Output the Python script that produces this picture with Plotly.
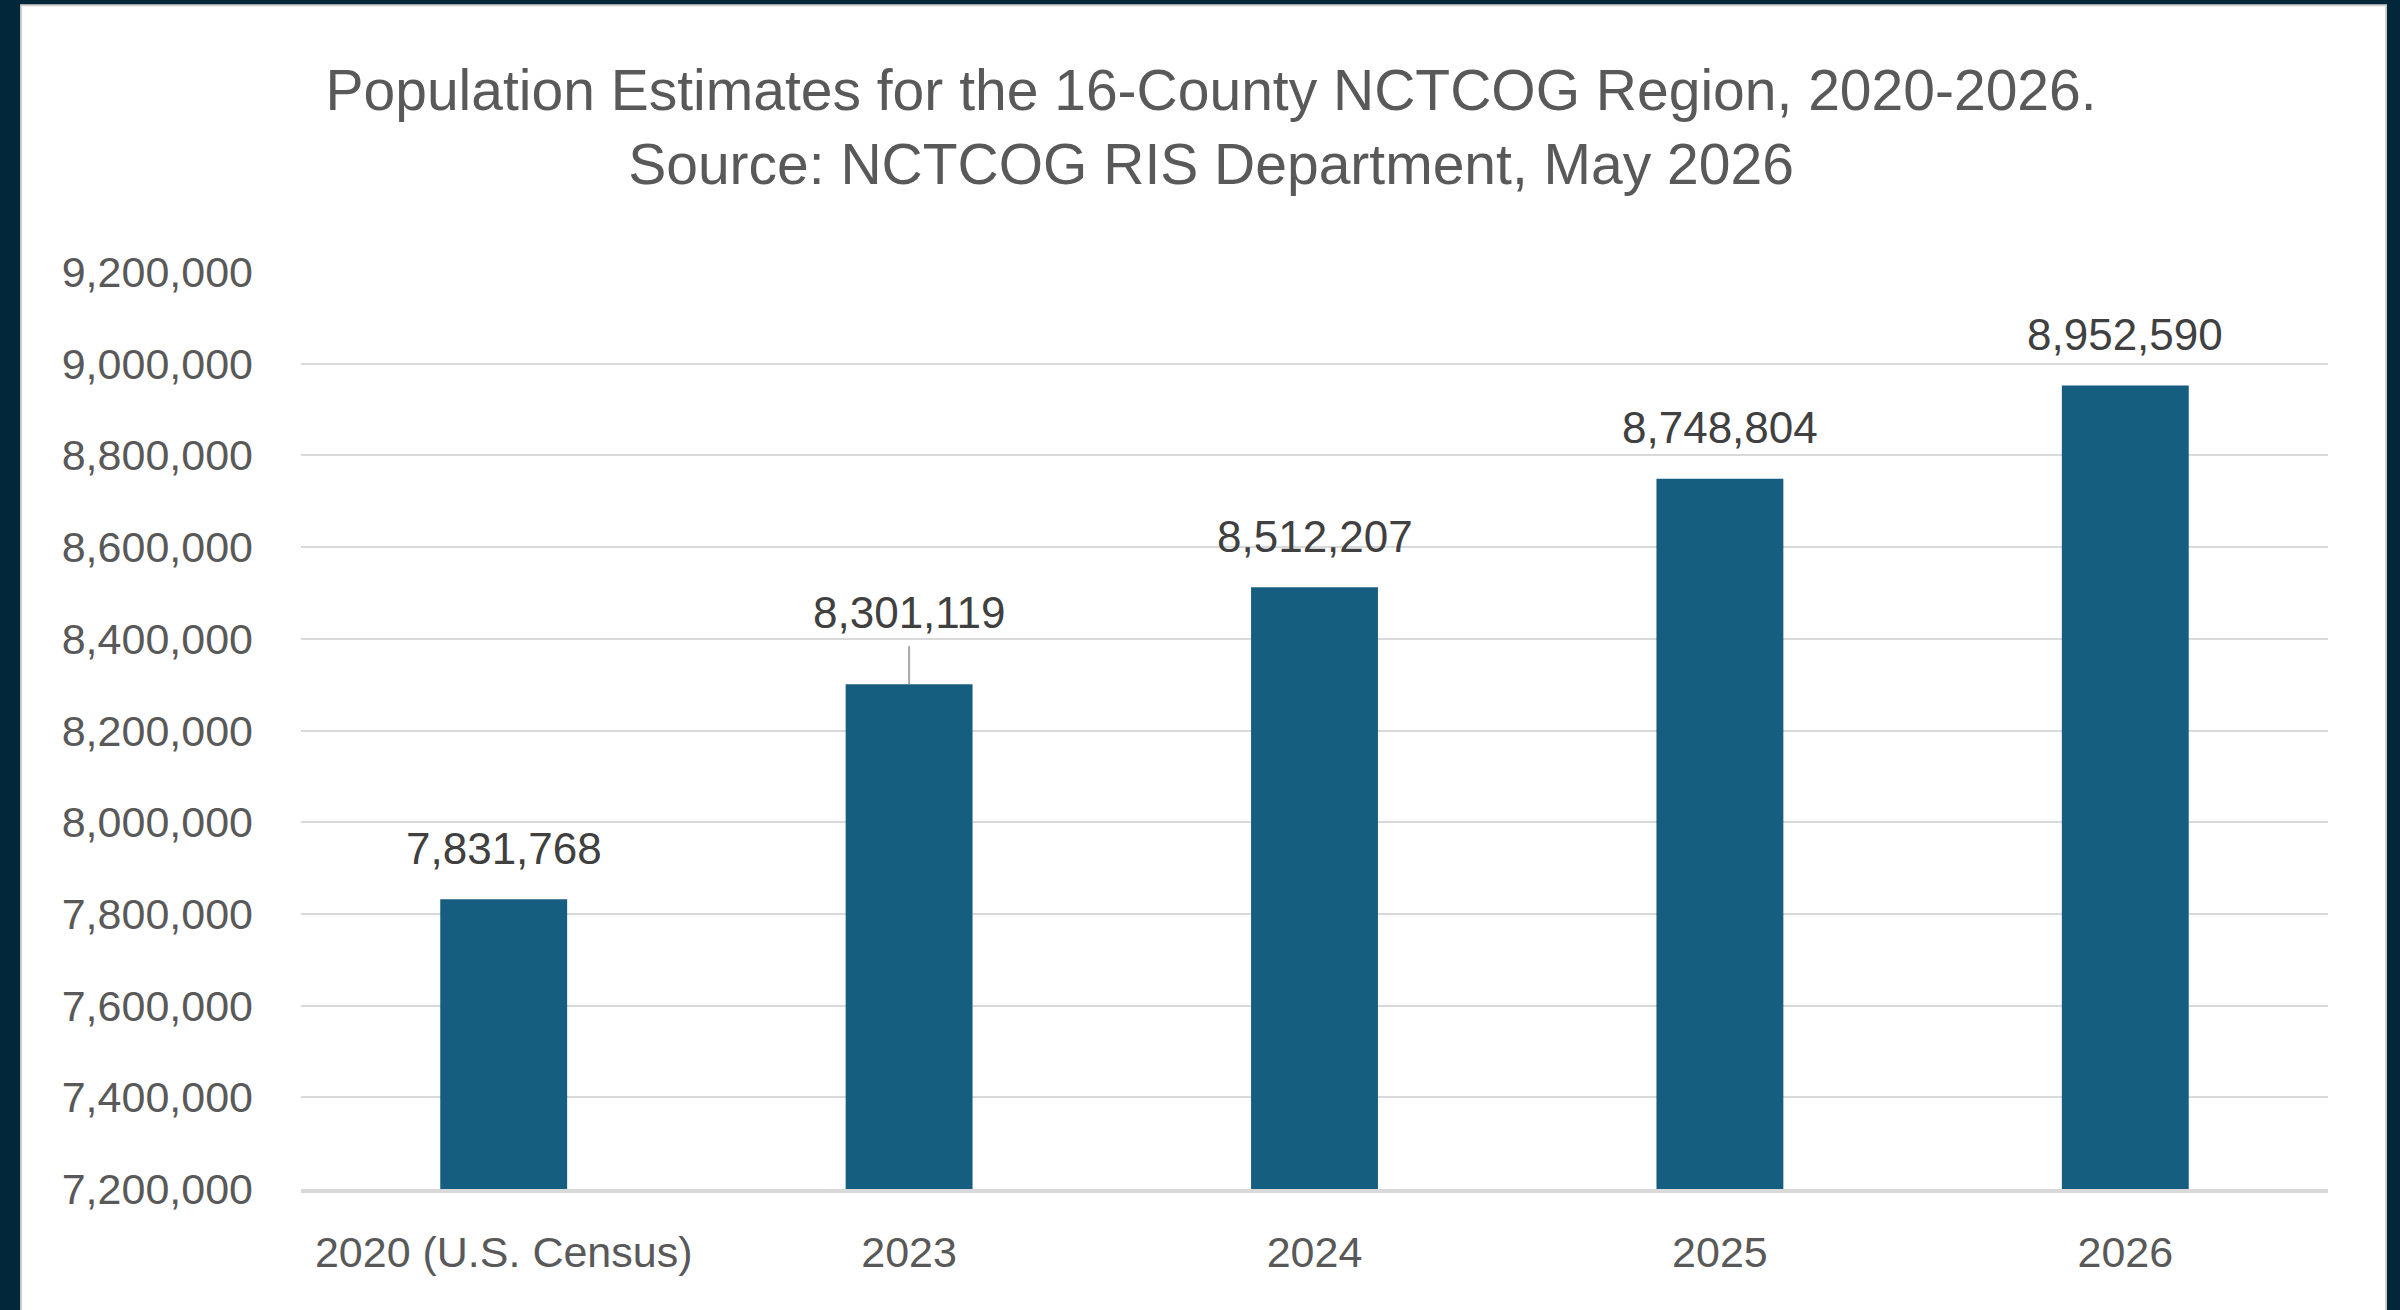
import plotly.graph_objects as go

categories = ["2020 (U.S. Census)", "2023", "2024", "2025", "2026"]
population = [7831768, 8301119, 8512207, 8748804, 8952590]
label_shift = [51, 72, 51, 51, 51]
leader_line = [False, True, False, False, False]
y_ticks = [7200000 + 200000 * i for i in range(11)]
y_tick_text = [f"{v:,}" for v in y_ticks]

BAR = "#165E80"
DARK = "#02263A"
FONT = "Liberation Sans, Arial, sans-serif"

fig = go.Figure()
fig.add_trace(go.Bar(
    x=categories, y=population, marker=dict(color=BAR, line=dict(width=0)),
    hoverinfo="skip", showlegend=False,
))

# category index positions (category axis: index i == categories[i])
for i, (v, s) in enumerate(zip(population, label_shift)):
    fig.add_annotation(x=i, y=v, xref="x", yref="y", text=f"{v:,}", showarrow=False,
                       yanchor="middle", yshift=s,
                       font=dict(family=FONT, size=44, color="#404040"))

for i, (v, ll) in enumerate(zip(population, leader_line)):
    if ll:
        fig.add_shape(type="line", xref="x", yref="y", x0=i, x1=i,
                      ysizemode="pixel", yanchor=v, y0=0, y1=38,
                      line=dict(color="#A6A6A6", width=2), layer="above")

# white panel on dark frame
fig.add_shape(type="rect", xref="paper", yref="paper",
              x0=-0.1381, x1=1.0286, y0=-0.3, y1=1.291,
              fillcolor="white", line=dict(color="#D0D0D0", width=2), layer="below")

fig.update_layout(
    width=2400, height=1310,
    paper_bgcolor=DARK, plot_bgcolor="rgba(0,0,0,0)",
    margin=dict(l=301, r=72, t=272, b=121),
    bargap=0.687,
    title=dict(
        text="Population Estimates for the 16-County NCTCOG Region, 2020-2026.<br>Source: NCTCOG RIS Department, May 2026",
        x=0.5046, xanchor="center", xref="container",
        y=0.916, yanchor="middle", yref="container",
        font=dict(family=FONT, size=57, color="#595959"),
    ),
    xaxis=dict(
        type="category", categoryorder="array", categoryarray=categories,
        range=[-0.5, len(categories) - 0.5],
        showgrid=False, showline=True, linecolor="#D9D9D9", linewidth=4,
        ticks="", ticklabelstandoff=22,
        tickfont=dict(family=FONT, size=43, color="#595959"),
    ),
    yaxis=dict(
        range=[7200000, 9200000], tickvals=y_ticks, ticktext=y_tick_text,
        showgrid=True, gridcolor="#D9D9D9", gridwidth=2,
        zeroline=False, showline=False, ticks="", ticklabelstandoff=47,
        tickfont=dict(family=FONT, size=43, color="#595959"),
    ),
)

fig.write_html("out.html", config={"displayModeBar": False},
               post_script="document.body.style.margin='0';")
